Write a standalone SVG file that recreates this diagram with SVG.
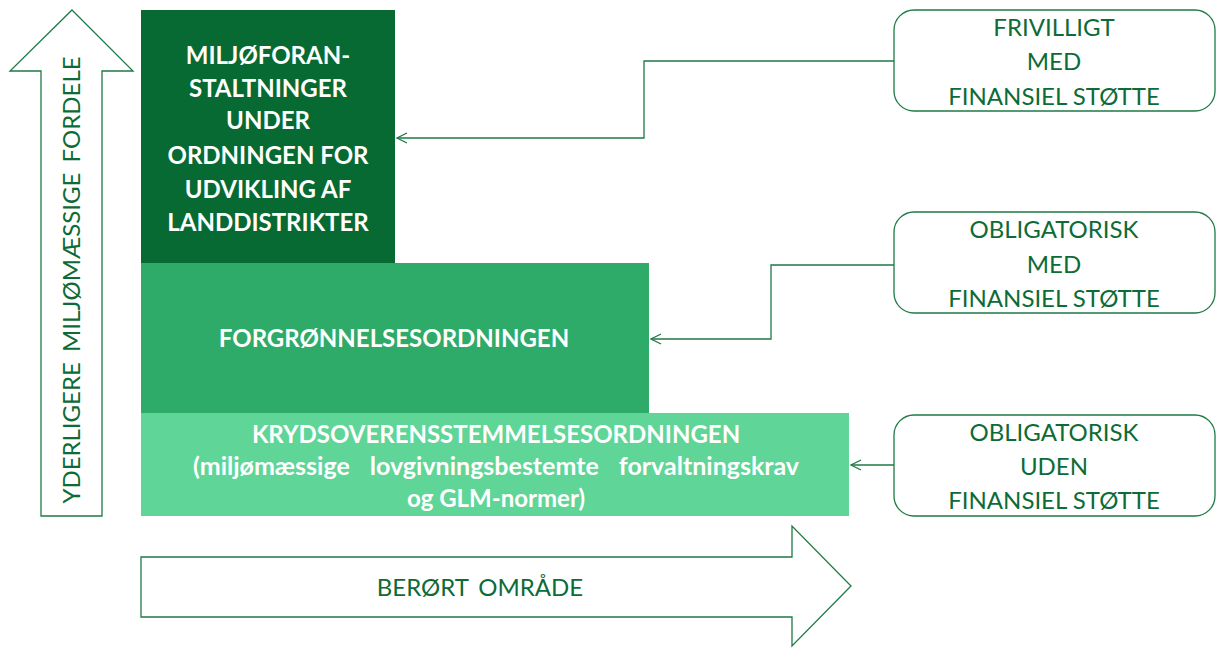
<svg xmlns="http://www.w3.org/2000/svg" width="1219" height="648" viewBox="0 0 1219 648">
<style>
.w{font-family:Lato,"Liberation Sans",sans-serif;font-weight:bold;fill:#fff;text-anchor:middle}
.g{font-family:Lato,"Liberation Sans",sans-serif;fill:#0d6b36;text-anchor:middle;font-size:24px}
.box{fill:#fff;stroke:#1f7a45;stroke-width:1.3}
.con{fill:none;stroke:#1f7a45;stroke-width:1.3}
</style>
<defs>
<marker id="ah" markerWidth="12" markerHeight="12" refX="11" refY="6" orient="auto" markerUnits="userSpaceOnUse">
<path d="M1,1 L11,6 L1,11" fill="none" stroke="#1f7a45" stroke-width="1.3"/>
</marker>
</defs>
<rect width="1219" height="648" fill="#fff"/>
<g id="arrow-up">
<polygon class="box" points="72,10 133,71 102,71 102,516 41,516 41,71 10,71"/>
<text class="g" transform="translate(80,280) rotate(-90)" font-size="24" word-spacing="4">YDERLIGERE MILJØMÆSSIGE FORDELE</text>
</g>
<g id="arrow-right">
<polygon class="box" points="141,557 792,557 792,526 851,586 792,646 792,617 141,617"/>
<text class="g" x="480" y="596" word-spacing="4">BERØRT OMRÅDE</text>
</g>
<g id="rural">
<rect x="141" y="10" width="254" height="253" fill="#076a33"/>
<text class="w" font-size="24"><tspan x="268" y="64">MILJØFORAN-</tspan><tspan x="268" y="97">STALTNINGER</tspan><tspan x="268" y="129">UNDER</tspan><tspan x="268" y="164">ORDNINGEN FOR</tspan><tspan x="268" y="198">UDVIKLING AF</tspan><tspan x="268" y="231">LANDDISTRIKTER</tspan></text>
</g>
<g id="greening">
<rect x="141" y="263" width="508" height="150" fill="#2eab68"/>
<text class="w" x="394" y="347" font-size="24">FORGRØNNELSESORDNINGEN</text>
</g>
<g id="cross">
<rect x="141" y="413" width="708" height="103" fill="#5fd598"/>
<text class="w" font-size="24"><tspan x="496" y="443">KRYDSOVERENSSTEMMELSESORDNINGEN</tspan><tspan x="496" y="475" font-size="25" word-spacing="14">(miljømæssige lovgivningsbestemte forvaltningskrav</tspan><tspan x="496" y="507">og GLM-normer)</tspan></text>
</g>
<g id="box-voluntary">
<rect class="box" x="894" y="10" width="321" height="101" rx="20"/>
<text class="g"><tspan x="1054" y="36">FRIVILLIGT</tspan><tspan x="1054" y="70">MED</tspan><tspan x="1054" y="105">FINANSIEL STØTTE</tspan></text>
</g>
<g id="box-mandatory-support">
<rect class="box" x="894" y="212" width="321" height="101" rx="20"/>
<text class="g"><tspan x="1054" y="238">OBLIGATORISK</tspan><tspan x="1054" y="273">MED</tspan><tspan x="1054" y="307">FINANSIEL STØTTE</tspan></text>
</g>
<g id="box-mandatory-nosupport">
<rect class="box" x="894" y="415" width="321" height="101" rx="20"/>
<text class="g"><tspan x="1054" y="441">OBLIGATORISK</tspan><tspan x="1054" y="475">UDEN</tspan><tspan x="1054" y="509">FINANSIEL STØTTE</tspan></text>
</g>
<g id="connectors">
<polyline class="con" points="894,61 644,61 644,138 397,138" marker-end="url(#ah)"/>
<polyline class="con" points="894,265 771,265 771,339 651,339" marker-end="url(#ah)"/>
<polyline class="con" points="894,465 851,465" marker-end="url(#ah)"/>
</g>
</svg>
